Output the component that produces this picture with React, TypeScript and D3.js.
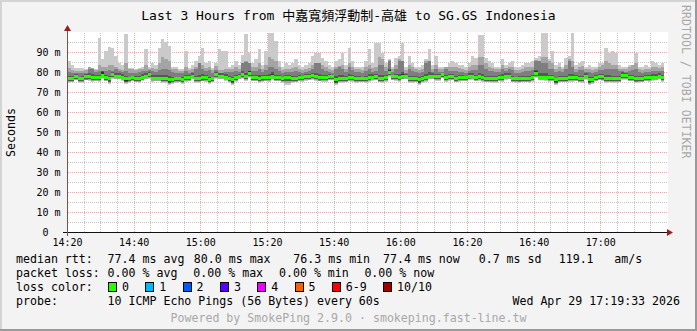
import React from "react";
import * as d3 from "d3";

// ---------------- data ----------------
const startTime = new Date(2026, 3, 29, 14, 20, 0);
const endTime = new Date(2026, 3, 29, 17, 20, 0);

// median rtt per 1-minute step (ms)
const median = [
  77.0,77.0,77.9,77.0,77.0,77.9,77.9,77.4,77.4,77.4,78.7,77.4,77.0,79.0,78.2,
  78.2,77.7,76.9,76.9,77.4,77.0,77.0,77.7,78.2,79.0,77.2,77.2,77.2,77.0,77.0,
  76.3,76.5,76.9,76.9,76.5,77.4,77.4,78.2,77.0,77.0,77.4,77.4,76.5,77.0,79.0,
  78.2,78.2,77.7,77.0,76.5,77.4,78.2,79.0,77.9,79.3,77.4,77.4,77.0,77.4,77.4,
  77.4,78.2,77.4,77.4,77.0,77.4,77.4,77.0,77.0,77.4,77.4,77.9,77.9,78.5,78.0,
  77.4,77.4,77.4,77.9,77.9,76.5,77.0,77.0,77.0,77.4,77.4,77.0,77.0,77.0,77.0,
  77.7,77.7,77.9,77.0,77.0,77.4,80.0,77.9,77.9,77.4,78.2,78.2,77.0,77.0,77.0,
  76.5,76.9,77.4,78.2,78.2,77.9,77.9,79.0,77.4,77.9,77.9,77.0,77.4,77.4,77.4,
  78.2,78.2,77.4,77.9,77.4,77.0,77.0,77.0,77.0,77.4,77.4,78.2,78.2,77.0,76.9,
  76.9,76.9,76.9,76.9,77.4,79.3,77.7,77.7,77.7,77.4,77.4,76.5,77.0,77.0,77.0,
  77.4,77.4,77.4,77.0,77.0,78.2,76.5,76.5,77.4,77.9,77.9,77.0,77.0,77.0,76.9,
  76.9,78.5,78.5,77.4,77.4,77.0,77.0,77.0,77.4,77.4,77.7,77.7,78.2,77.4
];

// slowest ping per step (ms)
const maxPing = [
  86,84,82.5,82.5,82.5,81.7,83,82.5,81.7,97.5,86.7,90.8,92.8,92.5,88.3,
  85,84,99.5,82.5,82.5,81.7,82.5,83,92,83,85,84,92.5,96.7,95.5,
  93.3,83,83,81.7,81.7,90.8,82.5,84,86,88.3,92.5,85,86,82.5,85,
  91.7,90.8,90.8,83,84,86,84,89,99.5,90,85,86.7,91.7,84,90.8,
  99.8,99.8,95.8,86,83,85,84,85,86.7,84,83,84,85,88.3,90,
  90,87.5,86,84,83,86,86.7,90,84,92.5,86,83,83,83,86,
  91.7,85,95,95,90,85,86.7,83,87.5,88.3,95,83,88.3,85,83,
  83,84,86.7,91.7,84,88.3,83,83,83,85,86,85,84,84,83,
  85,88.3,87.5,99,99,87.5,86,85,83,83,86.7,84,85,86,83,
  83,84,85,85,86,87.5,88.3,99.8,99.8,86.7,90.8,84,85,83,87.5,
  88.3,99.8,84,85,86,83,84,83,83,85,85,92.5,90,90.8,90,
  84,83,83,84,84,90,83,83,84,83,86,85,84,85
];

// 9th of 10 sorted pings (ms)
const ping9 = [
  82.5,81.5,81,81,81,81.5,83,82.5,81.5,84,83,83,84,84,83,
  82,81.5,85,82,82,81.5,82,82,84,82,82.5,82,85,88,87,
  86,82,82,81,81,83,81.5,82,83,85,84,82.5,83,81.5,83.5,
  81.5,81.5,82,82,82,83,82,85,86,85,83,83,85,82,84,
  88,87,86,83,81.5,82,82,82.5,83,82,81.5,82,82.5,84,85,
  85,84,83,82,81.5,83,83.5,84,82,85,83,82,82,81.5,83,
  84,82.5,83,88,87,83,86.5,82,84,87,86,81.5,84,83,82,
  81.5,82,86,86,82,84,82,82,83,83,83,83,82.5,82,81.5,
  83,84,84,88,88,85,83,82.5,82,82,84,82.5,83,83,81.5,
  81.5,82,83,83,83,86.5,86,88,88,86,85,82,83,82,84,
  87,86,82,83,83.5,82,82,81.5,82,83,84,86,85,84,84,
  82,82,82,83,84,85,82,81.5,82,82,83,83,82.5,83
];

// 8th of 10 sorted pings (ms)
const ping8 = [
  80.5,80,80,80,80,80,82,82,80.5,81,81,81,81.5,81,82,
  81,80.5,81,80,80,80,80.5,81,81,81.5,81,80.5,81.5,82,82,
  81.5,80.5,80,80,80,81,80,80.5,82,85,82,81,81.5,80,81.5,
  80,80,80.5,80.5,80.5,81,80.5,85,85.5,85,81,81,82,80.5,81.5,
  83,83,82,81,80,80.5,80.5,80.5,81,80.5,80,80.5,81,82,85,
  85,82,81,80.5,80,82,83,82,80.5,83,81.5,80.5,80.5,80,81,
  82,80.5,81,84,84,81,86,80.5,82,86,86,80,82,81,80.5,
  80,80.5,85,86,80.5,82,80.5,80.5,82,81,81,81,80.5,80.5,80,
  81,81.5,81.5,84,84,82,81,81,80.5,80.5,82,81,82,81.5,80,
  80,80.5,81,81,81.5,86,86,85,85,82,82,80.5,81,80.5,82,
  86,83,80.5,81.5,81.5,80.5,80.5,80,80.5,81.5,81.5,82,82,82,82,
  81,81,80.5,81,81.5,82,80.5,80,80.5,80.5,81,81,81,81
];

// inner pings as distance from the median, in half-millisecond units
const up7 = [
  3,3,3,2,3,3,4,4,3,3,4,3,3,3,3,
  3,3,3,2,2,3,3,3,3,3,3,3,3,4,4,
  4,3,2,2,3,3,3,3,3,4,4,3,3,2,3,
  3,3,3,3,3,3,2,4,4,3,3,3,4,3,3,
  4,4,3,3,2,3,3,3,3,3,2,3,3,3,4,
  4,3,3,3,2,4,4,4,3,4,3,3,3,2,3,
  3,3,3,4,4,3,4,2,3,4,4,2,3,3,3,
  3,3,4,4,3,3,3,2,3,3,3,3,3,3,2,
  3,3,3,4,4,3,3,3,3,3,4,3,3,3,2,
  3,3,3,3,3,4,4,4,4,3,3,2,3,3,3,
  4,4,3,3,3,3,3,3,3,3,3,4,4,3,3,
  3,4,3,3,3,3,3,3,3,3,3,3,3,3
];
const up6 = [
  1,1,1,1,1,1,1,1,1,1,3,1,1,2,1,
  1,1,1,1,1,1,1,1,1,2,1,1,1,1,1,
  1,1,1,1,1,1,1,1,1,1,1,1,1,1,2,
  1,1,1,1,1,1,1,2,1,3,1,1,1,1,1,
  1,2,1,1,1,1,1,1,1,1,1,1,1,1,1,
  1,1,1,1,1,1,1,1,1,1,1,1,1,1,1,
  1,1,1,1,1,1,3,1,1,1,2,1,1,1,1,
  1,1,1,1,1,1,1,1,2,1,1,1,1,1,1,
  1,1,1,2,1,1,1,1,1,1,1,1,1,1,1,
  1,1,1,1,1,3,1,1,1,1,1,1,1,1,1,
  1,1,1,1,1,1,1,1,1,1,1,1,1,1,1,
  1,2,1,1,1,1,1,1,1,1,1,1,1,1
];
const dn5 = [
  1,1,1,1,1,1,1,1,1,1,1,1,1,1,1,
  1,1,2,1,1,1,1,1,1,1,1,1,1,1,1,
  2,1,1,1,1,1,1,1,1,1,1,1,1,1,1,
  1,1,1,1,2,1,1,1,1,1,1,1,1,1,1,
  1,1,1,1,1,1,1,1,1,1,1,1,1,1,1,
  1,1,1,1,1,2,1,1,1,1,1,1,1,1,1,
  1,1,1,1,1,1,1,1,1,1,1,1,1,1,1,
  2,1,1,1,1,1,1,1,1,1,1,1,1,1,1,
  1,1,1,1,1,1,1,1,1,1,1,1,1,1,1,
  1,1,1,1,1,1,1,1,1,1,1,2,1,1,1,
  1,1,1,1,1,1,2,1,1,1,1,1,1,1,1,
  1,1,1,1,1,1,1,1,1,1,1,1,1,1
];
const dn4 = [
  2,2,2,2,2,2,2,2,2,2,2,2,3,2,2,
  2,2,3,2,2,2,2,2,2,2,2,2,2,2,2,
  3,2,2,2,2,2,2,2,2,2,2,2,2,2,2,
  2,2,2,2,3,2,2,2,2,2,2,2,2,2,2,
  2,2,2,2,2,3,3,2,2,2,2,2,2,2,2,
  2,2,2,2,2,3,2,2,2,2,2,2,2,2,2,
  3,2,2,2,2,2,2,2,2,2,2,2,2,2,2,
  3,2,2,2,2,2,2,2,2,2,2,2,2,2,2,
  2,2,2,2,2,2,2,2,2,2,2,2,2,2,2,
  2,2,2,2,2,2,2,2,2,2,2,3,2,2,2,
  2,2,2,2,2,2,3,2,2,2,2,2,2,2,2,
  2,2,2,2,2,2,2,2,2,2,2,2,2,2
];
const dn3 = [
  2,2,2,2,2,3,2,2,2,2,2,2,3,2,2,
  2,2,3,2,2,2,2,3,2,2,2,2,2,2,2,
  3,2,2,2,2,2,2,2,2,2,3,2,2,2,2,
  2,2,2,2,3,2,2,2,2,2,2,2,2,3,2,
  2,2,2,2,2,3,3,2,2,2,2,2,2,2,2,
  3,2,2,2,2,3,2,2,2,2,2,2,2,2,2,
  3,2,2,2,2,2,2,2,2,2,3,2,2,2,2,
  3,2,2,2,2,2,2,2,2,2,2,2,2,2,2,
  3,2,2,2,2,2,2,2,2,2,2,2,2,2,2,
  3,2,2,2,2,2,2,2,2,2,2,3,2,2,2,
  2,2,2,2,2,2,3,2,2,2,3,2,2,2,2,
  2,2,2,2,2,3,2,2,2,2,2,2,2,2
];
const dn2 = [
  3,3,3,3,3,3,3,3,3,3,3,3,4,3,3,
  3,3,4,3,3,3,3,3,3,3,3,3,3,3,3,
  4,3,3,3,3,3,3,3,3,3,3,3,3,3,3,
  3,3,3,3,4,3,3,3,3,3,3,3,3,3,3,
  3,3,3,3,3,5,5,3,3,3,3,3,3,3,3,
  3,3,3,3,3,4,3,3,3,3,3,3,3,3,3,
  4,3,3,3,3,3,3,3,3,3,3,3,3,3,3,
  4,3,3,3,3,3,3,3,3,3,3,3,3,3,3,
  3,3,3,3,3,3,3,3,3,3,3,3,3,3,3,
  3,3,3,3,3,3,3,3,3,3,3,4,3,3,3,
  3,3,3,3,3,3,4,3,3,3,3,3,3,3,3,
  3,3,3,3,3,3,3,3,3,3,3,3,3,3
];
const dn1 = [
  4,3,3,4,4,3,4,4,3,4,4,3,5,4,3,
  3,4,5,4,3,3,4,4,3,4,4,3,3,4,4,
  5,4,4,3,4,4,3,3,4,4,3,4,4,3,4,
  3,3,4,4,5,4,3,4,4,4,3,3,4,4,3,
  4,4,3,3,4,7,7,4,3,3,4,4,3,4,4,
  3,4,4,3,3,5,4,4,3,3,4,4,3,3,4,
  5,4,3,3,4,4,4,3,4,4,3,3,4,4,3,
  5,4,4,3,3,4,4,3,4,4,3,3,4,3,3,
  4,4,3,4,4,3,3,4,4,3,4,4,3,3,4,
  4,3,3,4,4,4,3,3,4,4,3,5,4,3,3,
  4,4,3,3,4,4,5,4,3,3,4,4,3,4,4,
  3,4,4,3,3,4,4,3,3,4,4,3,3,4
];
const HALF_MS = 0.5;

const title = "Last 3 Hours from 中嘉寬頻浮動制-高雄 to SG.GS Indonesia";
const yAxisTitle = "Seconds";
const yTickValues = [0, 10, 20, 30, 40, 50, 60, 70, 80, 90];
const yTickLabels = ["0  ", "10 m", "20 m", "30 m", "40 m", "50 m", "60 m", "70 m", "80 m", "90 m"];
const rttLabel = "median rtt:";
const rttStats = ["77.4 ms avg", "80.0 ms max", "76.3 ms min", "77.4 ms now", "0.7 ms sd", "119.1", "am/s"];
const pktLabel = "packet loss:";
const pktStats = ["0.00 % avg", "0.00 % max", "0.00 % min", "0.00 % now"];
const lossColorLabel = "loss color:";
const lossLabels = ["0", "1", "2", "3", "4", "5", "6-9", "10/10"];
const lossColors = ["#26ff00", "#00b8ff", "#0059ff", "#5e00ff", "#ee00ff", "#ff5e00", "#ff0000", "#a00000"];
const probeLabel = "probe:";
const probeText = "10 ICMP Echo Pings (56 Bytes) every 60s";
const dateText = "Wed Apr 29 17:19:33 2026";
const footer = "Powered by SmokePing 2.9.0 · smokeping.fast-line.tw";
const watermark = "RRDTOOL / TOBI OETIKER";
const smokeColors = ["#cacaca", "#a4a4a4", "#7e7e7e", "#585858", "#323232"];

// ---------------- layout ----------------
const W = 697, H = 331;
const X0 = 67.5, X1 = 667.5, Y0 = 232.5, Y1 = 32.5;
const MONO = "'DejaVu Sans Mono', 'Noto Sans CJK TC', monospace";
const rttX = [107.6, 193.8, 293.3, 383, 478.7, 558.7, 614.2];
const pktX = [107.6, 193.3, 279, 364.4];
const legendX = 16;
const valueX = 107.6;
const rowY = [263, 277, 291, 305, 322];

export default function App() {
  const x = d3.scaleTime().domain([startTime, endTime]).range([X0, X1]);
  const y = d3.scaleLinear().domain([0, 100]).range([Y0, Y1]);
  const N = median.length;
  const times = d3.range(N + 1).map((i) => d3.timeMinute.offset(startTime, i));
  const idx = d3.range(N + 1);
  const at = (a: number[], i: number) => a[Math.min(i, N - 1)];
  const rel = (a: number[], sign: number) => median.map((m, i) => m + sign * a[i] * HALF_MS);

  const p1 = rel(dn1, -1), p2 = rel(dn2, -1), p3 = rel(dn3, -1), p4 = rel(dn4, -1), p5 = rel(dn5, -1);
  const p6 = rel(up6, 1), p7 = rel(up7, 1);
  const bands: [number[], number[]][] = [[p1, maxPing], [p2, ping9], [p3, ping8], [p4, p7], [p5, p6]];

  const area = (lo: (i: number) => number, hi: (i: number) => number) =>
    d3.area<number>().x((i) => x(times[i])).y0(lo).y1(hi).curve(d3.curveStepAfter)(idx) || "";

  const medianPath = area((i) => y(at(median, i)) + 1.5, (i) => y(at(median, i)) - 1.5);

  const px = (v: number) => Math.round(v - 0.5) + 0.5;
  const minorX = d3.timeMinute.range(startTime, endTime, 5).filter((d) => d.getMinutes() % 20 !== 0);
  const majorX = d3.timeMinute.range(startTime, endTime, 20);
  const minorY = d3.range(5, 100, 10);
  const majorY = d3.range(10, 100, 10);
  const fmt = d3.timeFormat("%H:%M");

  const boxX: number[] = [];
  lossLabels.reduce((acc, l) => { boxX.push(acc); return acc + 30.3 + 7 * l.length; }, 108);

  const legendStyle = { fontFamily: MONO, fontSize: "11.6px", fill: "#000" } as const;
  const gx0 = 68, gx1 = 668, gy0 = 233, gy1 = 33;

  return (
    <svg width={W} height={H} viewBox={`0 0 ${W} ${H}`} style={{ position: "absolute", left: 0, top: 0 }}>
      <rect x={0} y={0} width={W} height={H} fill="#f3f3f3" />
      <rect x={0} y={0} width={W} height={2} fill="#d4d4d4" />
      <rect x={0} y={0} width={2} height={H} fill="#d4d4d4" />
      <rect x={W - 2} y={0} width={2} height={H} fill="#9a9a9a" />
      <rect x={0} y={H - 2} width={W} height={2} fill="#9a9a9a" />

      <rect x={67} y={32} width={601} height={201} fill="#ffffff" />

      {/* grid */}
      <g strokeWidth={1} strokeDasharray="1,1" shapeRendering="crispEdges">
        {minorX.map((d, i) => (
          <line key={"mx" + i} x1={px(x(d))} x2={px(x(d))} y1={gy1} y2={gy0} stroke="#c4c4c4" />
        ))}
        {minorY.map((v, i) => (
          <line key={"my" + i} x1={gx0} x2={gx1} y1={px(y(v))} y2={px(y(v))} stroke="#c4c4c4" />
        ))}
        {majorX.map((d, i) => (
          <line key={"Mx" + i} x1={px(x(d))} x2={px(x(d))} y1={gy1} y2={gy0} stroke="#f4a4a4" />
        ))}
        {majorY.map((v, i) => (
          <line key={"My" + i} x1={gx0} x2={gx1} y1={px(y(v))} y2={px(y(v))} stroke="#f4a4a4" />
        ))}
      </g>

      {/* smoke */}
      <g shapeRendering="crispEdges">
        {bands.map(([lo, hi], b) => (
          <path key={"b" + b} d={area((i) => y(at(lo, i)), (i) => y(at(hi, i)))} fill={smokeColors[b]} />
        ))}
        <path d={medianPath} fill={lossColors[0]} />
      </g>

      {/* axes */}
      <line x1={63} x2={668} y1={Y0} y2={Y0} stroke="#111" />
      <line x1={X0} x2={X0} y1={236} y2={30} stroke="#6e5555" />
      <path d="M667,229 L667,236 L673,232.5 Z" fill="#9b1c1c" />
      <path d="M64,31 L71,31 L67.5,25 Z" fill="#9b1c1c" />

      {/* y labels */}
      {yTickValues.map((v, i) => (
        <text key={"yl" + i} x={60.5} y={y(v) + 3.5} textAnchor="end"
          style={{ fontFamily: MONO, fontSize: "10px", whiteSpace: "pre" }} fill="#000">
          {yTickLabels[i]}
        </text>
      ))}
      {/* x labels */}
      {majorX.map((d, i) => (
        <text key={"xl" + i} x={x(d)} y={245.5} textAnchor="middle"
          style={{ fontFamily: MONO, fontSize: "10px" }} fill="#000">
          {fmt(d)}
        </text>
      ))}

      <text x={348.5} y={19.5} textAnchor="middle" style={{ fontFamily: MONO, fontSize: "13px" }} fill="#000">
        {title}
      </text>
      <text transform="translate(15,132.5) rotate(-90)" textAnchor="middle" style={legendStyle}>
        {yAxisTitle}
      </text>
      <text transform="translate(681.5,5) rotate(90)" style={{ fontFamily: MONO, fontSize: "11.6px" }} fill="#a8a8a8">
        {watermark}
      </text>

      {/* legend */}
      <text x={legendX} y={rowY[0]} style={legendStyle}>{rttLabel}</text>
      {rttStats.map((s, i) => (
        <text key={"r" + i} x={rttX[i]} y={rowY[0]} style={legendStyle}>{s}</text>
      ))}
      <text x={legendX} y={rowY[1]} style={legendStyle}>{pktLabel}</text>
      {pktStats.map((s, i) => (
        <text key={"p" + i} x={pktX[i]} y={rowY[1]} style={legendStyle}>{s}</text>
      ))}
      <text x={legendX} y={rowY[2]} style={legendStyle}>{lossColorLabel}</text>
      {lossLabels.map((l, i) => (
        <g key={"lc" + i}>
          <rect x={Math.round(boxX[i]) + 0.5} y={282.5} width={8} height={9} fill={lossColors[i]} stroke="#000" strokeWidth={1} />
          <text x={boxX[i] + 14} y={rowY[2]} style={legendStyle}>{l}</text>
        </g>
      ))}
      <text x={legendX} y={rowY[3]} style={legendStyle}>{probeLabel}</text>
      <text x={valueX} y={rowY[3]} style={legendStyle}>{probeText}</text>
      <text x={680} y={rowY[3]} textAnchor="end" style={legendStyle}>{dateText}</text>
      <text x={348.5} y={rowY[4]} textAnchor="middle" style={{ ...legendStyle, fill: "#a8a8a8" }}>{footer}</text>
    </svg>
  );
}
